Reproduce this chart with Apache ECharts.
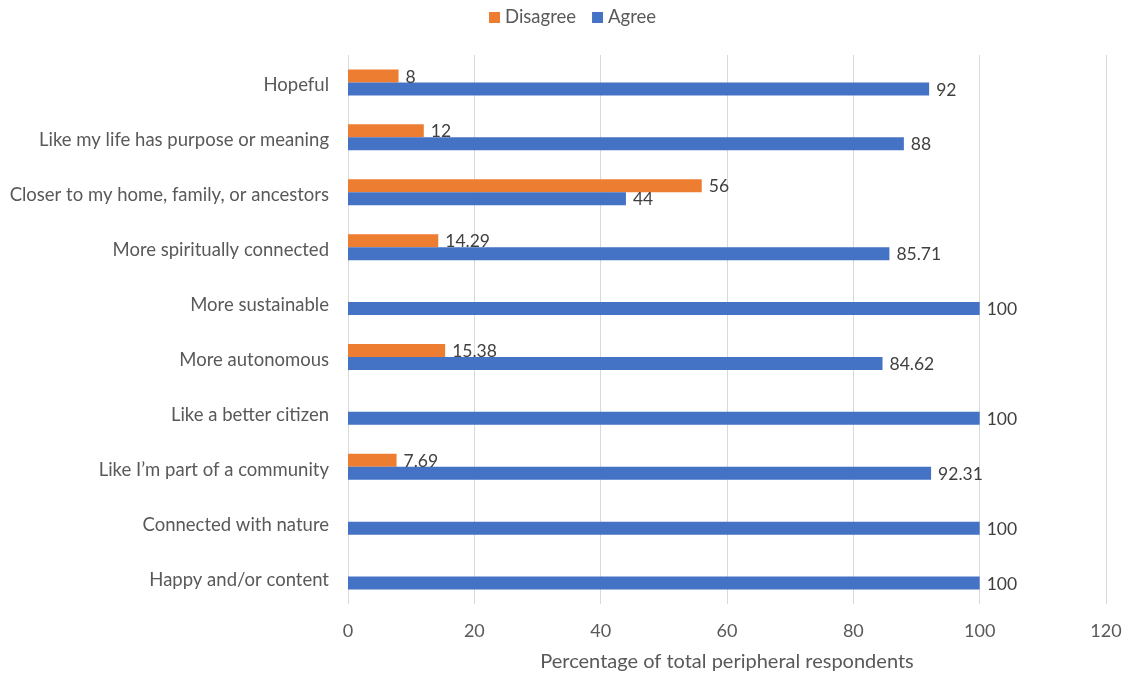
<!DOCTYPE html>
<html><head><meta charset="utf-8">
<script src="https://cdn.jsdelivr.net/npm/echarts@6/dist/echarts.min.js"></script>
<style>html,body{margin:0;padding:0;background:#fff}#c{width:1126px;height:677px}</style>
</head><body><div id="c"></div>
<script>
var categories = ["Hopeful","Like my life has purpose or meaning","Closer to my home, family, or ancestors","More spiritually connected","More sustainable","More autonomous","Like a better citizen","Like I\u2019m part of a community","Connected with nature","Happy and/or content"];
var disagree = [8, 12, 56, 14.29, null, 15.38, null, 7.69, null, null];
var agree = [92, 88, 44, 85.71, 100, 84.62, 100, 92.31, 100, 100];
var xTicks = [0,20,40,60,80,100,120];
var FONT = 'Lato';
var chart = echarts.init(document.getElementById('c'));
var lbl = {show:true, position:'right', distance:7, color:'#404040', fontSize:17.5, fontFamily:FONT, offset:[0,1]};
chart.setOption({
  animation:false,
  textStyle:{fontFamily:FONT},
  legend:{top:3, left:484, itemWidth:11, itemHeight:11, itemGap:16, icon:'rect',
    textStyle:{color:'#595959', fontSize:18.5, fontFamily:FONT}, data:['Disagree','Agree']},
  grid:{left:348, right:20, top:55, bottom:72, containLabel:false},
  xAxis:{type:'value', min:0, max:120, interval:20,
    name:'Percentage of total peripheral respondents', nameLocation:'middle', nameGap:48,
    nameTextStyle:{color:'#595959', fontSize:20, fontFamily:FONT},
    axisLine:{show:false}, axisTick:{show:false},
    axisLabel:{color:'#595959', fontSize:18, margin:18, fontFamily:FONT},
    splitLine:{lineStyle:{color:'#d9d9d9', width:1}}},
  yAxis:{type:'category', data:categories, inverse:true,
    axisLine:{show:false}, axisTick:{show:false},
    axisLabel:{margin:19, formatter:function(v){return '{a|' + v + '}';},
      rich:{a:{color:'#595959', fontSize:18.5, fontFamily:FONT, padding:[6,0,0,0]}}}},
  series:[
    {name:'Disagree', type:'bar', data:disagree, barWidth:13, barGap:'0%', itemStyle:{color:'#ED7D31'}, label:lbl},
    {name:'Agree', type:'bar', data:agree, barWidth:13, barGap:'0%', itemStyle:{color:'#4472C4'}, label:lbl}
  ]
});
</script></body></html>
